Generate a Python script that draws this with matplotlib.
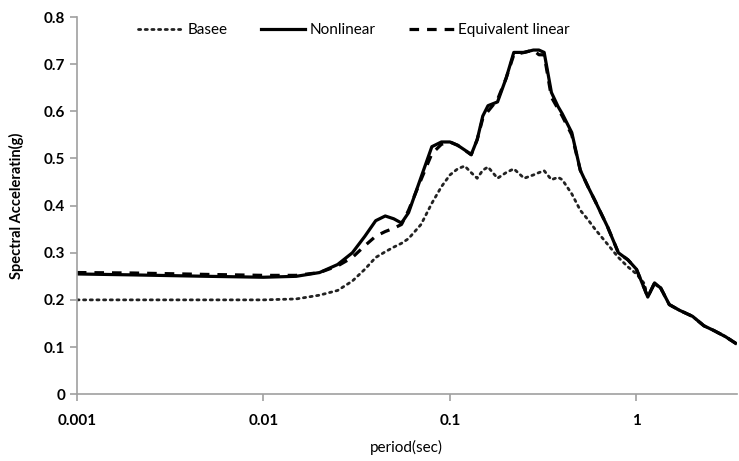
import matplotlib
matplotlib.use('Agg')
import matplotlib.pyplot as plt

# period grid (sec) and spectral accelerations (g)
period = [0.001, 0.002, 0.005, 0.01, 0.015, 0.02, 0.025, 0.03, 0.035, 0.04,
          0.045, 0.05, 0.055, 0.06, 0.07, 0.08, 0.09, 0.1, 0.11, 0.12,
          0.13, 0.14, 0.15, 0.16, 0.18, 0.2, 0.22, 0.25, 0.28, 0.3,
          0.32, 0.35, 0.38, 0.4, 0.45, 0.5, 0.55, 0.6, 0.7, 0.8,
          0.9, 1.0, 1.1, 1.15, 1.25, 1.35, 1.5, 1.7, 2.0, 2.3,
          2.6, 3.0, 3.4]

basee = [0.2, 0.2, 0.2, 0.2, 0.202, 0.21, 0.22, 0.24, 0.265, 0.29,
         0.302, 0.312, 0.32, 0.33, 0.36, 0.405, 0.44, 0.465, 0.478, 0.484,
         0.47, 0.458, 0.475, 0.482, 0.458, 0.47, 0.478, 0.458, 0.465, 0.47,
         0.474, 0.455, 0.46, 0.455, 0.425, 0.39, 0.37, 0.35, 0.318, 0.29,
         0.27, 0.255, 0.235, 0.206, 0.234, 0.224, 0.19, 0.178, 0.165, 0.145,
         0.135, 0.122, 0.108]

nonlinear = [0.255, 0.253, 0.25, 0.248, 0.25, 0.258, 0.275, 0.30, 0.335, 0.368,
             0.378, 0.372, 0.363, 0.385, 0.46, 0.525, 0.535, 0.535, 0.528, 0.518,
             0.508, 0.54, 0.59, 0.612, 0.62, 0.67, 0.725, 0.725, 0.73, 0.73,
             0.725, 0.64, 0.61, 0.595, 0.555, 0.475, 0.44, 0.41, 0.355, 0.30,
             0.285, 0.265, 0.225, 0.206, 0.236, 0.225, 0.19, 0.178, 0.165, 0.145,
             0.135, 0.122, 0.108]

equiv_linear = [0.258, 0.257, 0.254, 0.252, 0.252, 0.258, 0.272, 0.29, 0.315, 0.335,
                0.345, 0.352, 0.36, 0.39, 0.455, 0.51, 0.53, 0.535, 0.528, 0.518,
                0.508, 0.54, 0.585, 0.60, 0.625, 0.67, 0.72, 0.725, 0.73, 0.72,
                0.72, 0.63, 0.605, 0.59, 0.55, 0.475, 0.44, 0.41, 0.355, 0.30,
                0.285, 0.265, 0.225, 0.206, 0.236, 0.225, 0.19, 0.178, 0.165, 0.145,
                0.135, 0.122, 0.108]

xticks = [0.001, 0.01, 0.1, 1]
xtick_labels = ['0.001', '0.01', '0.1', '1']

plt.rcParams['font.family'] = ['Lato', 'DejaVu Sans']

fig = plt.figure(figsize=(7.39, 4.61), dpi=100)
ax = fig.add_axes([0.104, 0.145, 0.893, 0.818])

ax.plot(period, basee, color='#222222', lw=2.0, linestyle=(0, (0.8, 1.6)),
        dash_capstyle='round', label='Basee')
ax.plot(period, nonlinear, color='black', lw=2.3, label='Nonlinear')
ax.plot(period, equiv_linear, color='black', lw=2.3, linestyle=(0, (3, 2.5)),
        label='Equivalent linear')

ax.set_xscale('log')
ax.set_xlim(0.001, 3.45)
ax.set_ylim(0, 0.8)
ax.set_xticks(xticks)
ax.set_xticklabels(xtick_labels)
ax.minorticks_off()
ax.set_yticks([0, 0.1, 0.2, 0.3, 0.4, 0.5, 0.6, 0.7, 0.8])
ax.set_yticklabels(['0', '0.1', '0.2', '0.3', '0.4', '0.5', '0.6', '0.7', '0.8'])

for s in ['top', 'right']:
    ax.spines[s].set_visible(False)
for s in ['left', 'bottom']:
    ax.spines[s].set_color('#a0a0a0')
    ax.spines[s].set_linewidth(1.2)
ax.tick_params(axis='both', colors='#a0a0a0', length=5, width=1.2, direction='out',
               labelcolor='black', labelsize=11)
ax.tick_params(axis='x', pad=9)
for lab in ax.get_xticklabels() + ax.get_yticklabels():
    lab.set_fontweight('bold')

ax.set_xlabel('period(sec)', fontsize=11, labelpad=9)
ax.set_ylabel('Spectral Acceleratin(g)', fontsize=10.5, fontweight='bold', labelpad=14)

ax.legend(loc='upper center', bbox_to_anchor=(0.42, 1.02), ncol=3, frameon=False,
          fontsize=11, handlelength=2.9, handletextpad=0.3, columnspacing=2.2)

fig.savefig('out.png', dpi=100)
